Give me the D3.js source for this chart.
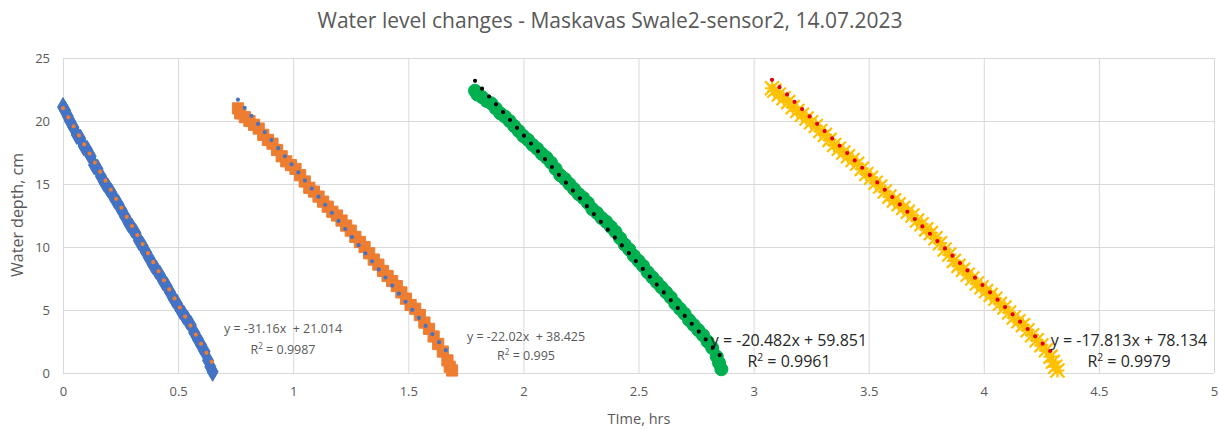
<!DOCTYPE html>
<html>
<head>
<meta charset="utf-8">
<script src="https://cdn.jsdelivr.net/npm/d3@7"></script>
<style>
  html, body { margin: 0; padding: 0; background: #fff; }
  svg { display: block; font-family: "Open Sans", "Liberation Sans", sans-serif; }
</style>
</head>
<body>
<svg id="chart" width="1219" height="430"></svg>
<script>
// Measured water depth (cm) against elapsed time (hrs), four drawdown runs
const run1Time = [0, 0.01, 0.02, 0.03, 0.045, 0.06, 0.075, 0.09, 0.105, 0.12, 0.135, 0.15, 0.165, 0.18, 0.195, 0.21, 0.225, 0.24, 0.255, 0.27, 0.285, 0.30, 0.315, 0.33, 0.345, 0.36, 0.375, 0.39, 0.405, 0.42, 0.435, 0.45, 0.465, 0.48, 0.495, 0.51, 0.525, 0.54, 0.555, 0.57, 0.585, 0.60, 0.615, 0.63, 0.64, 0.65];
const run1Depth = [21.1, 20.8, 20.4, 20.0, 19.5, 18.9, 18.6, 18.0, 17.7, 17.2, 16.5, 16.2, 15.6, 15.1, 14.7, 14.3, 13.8, 13.4, 12.9, 12.4, 11.9, 11.5, 11.1, 10.5, 10.1, 9.6, 9.1, 8.6, 8.2, 7.8, 7.3, 6.9, 6.4, 5.9, 5.5, 5.0, 4.6, 4.2, 3.8, 3.2, 2.7, 2.2, 1.7, 1.0, 0.5, 0.1];

const run2Time = [0.76, 0.77, 0.79, 0.81, 0.83, 0.85, 0.87, 0.89, 0.91, 0.93, 0.95, 0.97, 0.99, 1.01, 1.03, 1.05, 1.07, 1.09, 1.11, 1.13, 1.15, 1.17, 1.19, 1.21, 1.23, 1.25, 1.27, 1.29, 1.31, 1.33, 1.35, 1.37, 1.39, 1.41, 1.43, 1.45, 1.47, 1.49, 1.51, 1.53, 1.55, 1.57, 1.59, 1.61, 1.63, 1.65, 1.67, 1.68, 1.69];
const run2Depth = [21.0, 20.6, 20.3, 20.0, 19.7, 19.4, 18.9, 18.5, 18.2, 17.7, 17.2, 16.8, 16.5, 16.2, 15.7, 15.2, 14.7, 14.4, 14.0, 13.6, 13.2, 12.8, 12.5, 12.1, 11.7, 11.3, 10.8, 10.4, 10.0, 9.5, 9.0, 8.6, 8.1, 7.7, 7.3, 6.9, 6.4, 5.9, 5.4, 5.1, 4.6, 4.0, 3.5, 2.9, 2.3, 1.7, 1.0, 0.5, 0.2];

const run3Time = [1.79, 1.80, 1.82, 1.84, 1.86, 1.88, 1.90, 1.92, 1.94, 1.96, 1.98, 2.00, 2.02, 2.04, 2.06, 2.08, 2.10, 2.12, 2.14, 2.16, 2.18, 2.20, 2.22, 2.24, 2.26, 2.28, 2.30, 2.32, 2.34, 2.36, 2.38, 2.40, 2.42, 2.44, 2.46, 2.48, 2.50, 2.52, 2.54, 2.56, 2.58, 2.60, 2.62, 2.64, 2.66, 2.68, 2.70, 2.72, 2.74, 2.76, 2.78, 2.80, 2.82, 2.84, 2.85, 2.86];
const run3Depth = [22.4, 22.1, 21.9, 21.6, 21.4, 21.0, 20.6, 20.35, 20.0, 19.6, 19.2, 18.8, 18.5, 18.1, 17.8, 17.4, 17.1, 16.7, 16.2, 15.7, 15.4, 15.0, 14.6, 14.2, 13.9, 13.5, 13.0, 12.7, 12.3, 12.0, 11.6, 11.2, 10.7, 10.2, 9.8, 9.3, 8.9, 8.5, 8.0, 7.6, 7.2, 6.8, 6.4, 6.0, 5.5, 5.1, 4.7, 4.2, 3.8, 3.4, 3.0, 2.5, 2.0, 1.3, 0.8, 0.3];

const run4Time = [3.08, 3.09, 3.11, 3.13, 3.15, 3.17, 3.19, 3.21, 3.23, 3.25, 3.27, 3.29, 3.31, 3.33, 3.35, 3.37, 3.39, 3.41, 3.43, 3.45, 3.47, 3.49, 3.51, 3.53, 3.55, 3.57, 3.59, 3.61, 3.63, 3.65, 3.67, 3.69, 3.71, 3.73, 3.75, 3.77, 3.79, 3.81, 3.83, 3.85, 3.87, 3.89, 3.91, 3.93, 3.95, 3.97, 3.99, 4.01, 4.03, 4.05, 4.07, 4.09, 4.11, 4.13, 4.15, 4.17, 4.19, 4.21, 4.23, 4.25, 4.27, 4.29, 4.30, 4.31, 4.32];
const run4Depth = [22.6, 22.4, 22.1, 21.8, 21.5, 21.1, 20.8, 20.5, 20.2, 19.9, 19.6, 19.2, 18.9, 18.5, 18.1, 17.8, 17.5, 17.2, 16.9, 16.6, 16.2, 15.8, 15.5, 15.1, 14.8, 14.4, 14.0, 13.7, 13.4, 13.1, 12.8, 12.5, 12.1, 11.8, 11.4, 11.1, 10.7, 10.3, 9.8, 9.4, 8.9, 8.5, 8.2, 7.8, 7.5, 7.1, 6.8, 6.5, 6.2, 5.9, 5.5, 5.2, 4.8, 4.4, 4.1, 3.8, 3.4, 3.0, 2.6, 2.2, 1.8, 1.3, 0.9, 0.5, 0.2];

// Linear trendlines (slope, intercept, R²) for each run
const trendSlope = [-31.16, -22.02, -20.482, -17.813];
const trendIntercept = [21.014, 38.425, 59.851, 78.134];
const trendR2 = ["0.9987", "0.995", "0.9961", "0.9979"];
const trendLabels = ["y = -31.16x  + 21.014", "y = -22.02x  + 38.425", "y = -20.482x + 59.851", "y = -17.813x + 78.134"];

const xTicks = [0, 0.5, 1, 1.5, 2, 2.5, 3, 3.5, 4, 4.5, 5];
const yTicks = [0, 5, 10, 15, 20, 25];

const chartTitle = "Water level changes - Maskavas Swale2-sensor2, 14.07.2023";
const xTitle = "TIme, hrs";
const yTitle = "Water depth, cm";

const svg = d3.select("#chart");
const margin = { left: 63, right: 1214, top: 58, bottom: 373 };

const x = d3.scaleLinear().domain([0, 5]).range([margin.left, margin.right]);
const y = d3.scaleLinear().domain([0, 25]).range([margin.bottom, margin.top]);

const gridColor = "#d9d9d9";
const textColor = "#595959";

// gridlines
svg.append("g")
  .attr("transform", `translate(0,${margin.bottom})`)
  .call(d3.axisBottom(x).tickValues(xTicks).tickSize(-(margin.bottom - margin.top)).tickFormat(""))
  .call(g => g.select(".domain").remove())
  .call(g => g.selectAll("line").attr("stroke", gridColor).attr("stroke-width", 1));

svg.append("g")
  .attr("transform", `translate(${margin.left},0)`)
  .call(d3.axisLeft(y).tickValues(yTicks).tickSize(-(margin.right - margin.left)).tickFormat(""))
  .call(g => g.select(".domain").remove())
  .call(g => g.selectAll("line").attr("stroke", gridColor).attr("stroke-width", 1));

// tick labels
svg.append("g")
  .attr("transform", `translate(0,${margin.bottom})`)
  .call(d3.axisBottom(x).tickValues(xTicks).tickSize(0).tickPadding(14).tickFormat(d3.format("")))
  .call(g => g.select(".domain").remove())
  .call(g => g.selectAll("text").attr("fill", textColor).attr("font-size", 13).attr("font-family", "Open Sans, sans-serif"));

svg.append("g")
  .attr("transform", `translate(${margin.left},0)`)
  .call(d3.axisLeft(y).tickValues(yTicks).tickSize(0).tickPadding(13).tickFormat(d3.format("")))
  .call(g => g.select(".domain").remove())
  .call(g => g.selectAll("text").attr("fill", textColor).attr("font-size", 13).attr("font-family", "Open Sans, sans-serif"));

// titles
svg.append("text")
  .attr("x", 610).attr("y", 28)
  .attr("text-anchor", "middle")
  .attr("fill", textColor)
  .attr("font-size", 21)
  .text(chartTitle);

svg.append("text")
  .attr("x", 639).attr("y", 424)
  .attr("text-anchor", "middle")
  .attr("fill", textColor)
  .attr("font-size", 14.5)
  .text(xTitle);

svg.append("text")
  .attr("transform", "translate(23,215) rotate(-90)")
  .attr("text-anchor", "middle")
  .attr("fill", textColor)
  .attr("font-size", 16)
  .text(yTitle);

// series
const zip = (xs, ys) => xs.map((v, i) => ({ t: v, d: ys[i] }));
const series = [
  { pts: zip(run1Time, run1Depth), color: "#4472C4", marker: "diamond", trendColor: "#ED7D31" },
  { pts: zip(run2Time, run2Depth), color: "#ED7D31", marker: "square", trendColor: "#4472C4" },
  { pts: zip(run3Time, run3Depth), color: "#00B050", marker: "circle", trendColor: "#000000" },
  { pts: zip(run4Time, run4Depth), color: "#FFC000", marker: "star", trendColor: "#E00000" }
];

const markerPath = {
  diamond: d3.symbol().type(d3.symbolDiamond).size(105)(),
  square: d3.symbol().type(d3.symbolSquare).size(125)(),
  circle: d3.symbol().type(d3.symbolCircle).size(135)()
};

const plot = svg.append("g");

series.forEach(s => {
  const g = plot.append("g");
  if (s.marker === "star") {
    const r = 7;
    g.selectAll("path").data(s.pts).join("path")
      .attr("transform", p => `translate(${x(p.t)},${y(p.d)})`)
      .attr("d", `M${-r},${-r}L${r},${r}M${-r},${r}L${r},${-r}M0,${-r}L0,${r}M${-r},0L${r},0`)
      .attr("stroke", s.color)
      .attr("stroke-width", 2.2)
      .attr("fill", "none");
  } else {
    g.selectAll("path").data(s.pts).join("path")
      .attr("transform", p => `translate(${x(p.t)},${y(p.d)})`)
      .attr("d", markerPath[s.marker])
      .attr("fill", s.color)
      .attr("stroke", s.color)
      .attr("stroke-width", 1);
  }
});

// trendlines over each run's time span
series.forEach((s, i) => {
  const t0 = d3.min(s.pts, p => p.t), t1 = d3.max(s.pts, p => p.t);
  const f = t => trendSlope[i] * t + trendIntercept[i];
  plot.append("line")
    .attr("x1", x(t0)).attr("y1", y(f(t0)))
    .attr("x2", x(t1)).attr("y2", y(f(t1)))
    .attr("stroke", s.trendColor)
    .attr("stroke-width", 4.2)
    .attr("stroke-linecap", "round")
    .attr("stroke-dasharray", "0 10.5");
});

// trendline equations
const labelPos = [
  { cx: 283, y1: 333, y2: 354, size: 12.5, color: textColor },
  { cx: 526, y1: 341, y2: 360, size: 12.5, color: textColor },
  { cx: 789, y1: 346, y2: 367, size: 16, color: "#262626" },
  { cx: 1129, y1: 346, y2: 367, size: 16, color: "#262626" }
];
labelPos.forEach((lp, i) => {
  const g = svg.append("g").attr("fill", lp.color).attr("font-size", lp.size).attr("text-anchor", "middle");
  g.append("text").attr("x", lp.cx).attr("y", lp.y1).attr("xml:space", "preserve").text(trendLabels[i]);
  const r = g.append("text").attr("x", lp.cx).attr("y", lp.y2);
  r.append("tspan").text("R");
  r.append("tspan").attr("font-size", lp.size * 0.65).attr("dy", -lp.size * 0.4).text("2");
  r.append("tspan").attr("dy", lp.size * 0.4).text(" = " + trendR2[i]);
});
</script>
</body>
</html>
